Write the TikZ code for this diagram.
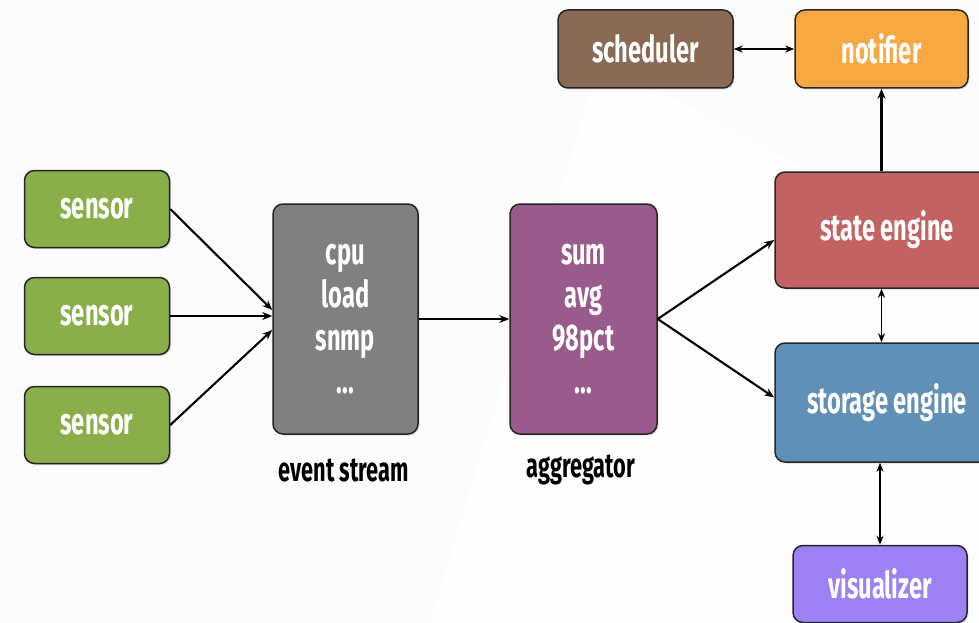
\documentclass[tikz,border=0pt]{standalone}
\usepackage{fontspec}
\setmainfont{Fira Sans}[FakeStretch=0.64]
\usetikzlibrary{arrows.meta,shadows,positioning}

\definecolor{sensorgreen}{HTML}{8AAF4A}
\definecolor{streamgray}{HTML}{808080}
\definecolor{aggpurple}{HTML}{995A8C}
\definecolor{schedbrown}{HTML}{8A6A55}
\definecolor{notiforange}{HTML}{F8A840}
\definecolor{statered}{HTML}{C26262}
\definecolor{storeblue}{HTML}{6190B6}
\definecolor{visviolet}{HTML}{9C80F4}

\tikzset{
  box/.style={draw=black!85, line width=1.5pt, rounded corners=10pt,
    text=white, font=\bfseries\fontsize{37}{43}\selectfont, align=center,
    drop shadow={opacity=0.25, shadow xshift=1.5pt, shadow yshift=-1.5pt}},
  caption/.style={font=\bfseries\fontsize{34}{40}\selectfont, text=black},
  flow/.style={line width=2.1pt, -{Stealth[length=10pt,width=8pt]}},
  both/.style={line width=1.8pt, {Stealth[length=9pt,width=7pt]}-{Stealth[length=9pt,width=7pt]}}
}

\begin{document}
\begin{tikzpicture}[x=1pt,y=-1pt]

%Frame
\useasboundingbox (0,0) rectangle (979,623);
\clip (0,0) rectangle (979,623);
\fill[gray!2] (0,0) rectangle (979,623);
\fill[white, opacity=0.7] (600,60) -- (979,260) -- (979,623) -- (430,623) -- cycle;

%Sources
\node[box, fill=sensorgreen, minimum width=145, minimum height=77] (sensA) at (97,209) {sensor};
\node[box, fill=sensorgreen, minimum width=145, minimum height=77] (sensB) at (97,316) {sensor};
\node[box, fill=sensorgreen, minimum width=145, minimum height=77] (sensC) at (97,425) {sensor};

%Stream and aggregation
\node[box, fill=streamgray, minimum width=145, minimum height=230] (stream) at (345.5,319) {cpu\\load\\snmp\\...};
\node[box, fill=aggpurple, minimum width=147, minimum height=230] (agg) at (583.5,319) {sum\\avg\\98pct\\...};
\node[caption] (streamlbl) at (344,470) {event stream};
\node[caption] (agglbl) at (581,470) {aggregator};

%Engines and outputs
\node[box, fill=schedbrown, minimum width=175, minimum height=78] (sched) at (645.5,49) {scheduler};
\node[box, fill=notiforange, minimum width=173, minimum height=78] (notif) at (881.5,49) {notifier};
\node[box, fill=statered, minimum width=224, minimum height=116] (state) at (887,230) {state engine};
\node[box, fill=storeblue, minimum width=224, minimum height=119] (store) at (887,402.5) {storage engine};
\node[box, fill=visviolet, minimum width=174, minimum height=77] (vis) at (880,584) {visualizer};

%Connections
\draw[flow] (sensA.east) -- ([yshift=9pt]stream.west);
\draw[flow] (sensB.east) -- (stream.west |- sensB.east);
\draw[flow] (sensC.east) -- ([yshift=-11pt]stream.west);
\draw[flow] (stream.east) -- (agg.west);
\draw[flow] (agg.east) -- ([yshift=-10pt]state.west);
\draw[flow] (agg.east) -- ([yshift=5pt]store.west);
\draw[flow] (state.north -| notif.south) -- (notif.south);
\draw[both] (sched.east) -- (notif.west);
\draw[both] (state.south -| notif.south) -- (store.north -| notif.south);
\draw[both] (store.south -| vis.north) -- (vis.north);
\end{tikzpicture}
\end{document}
